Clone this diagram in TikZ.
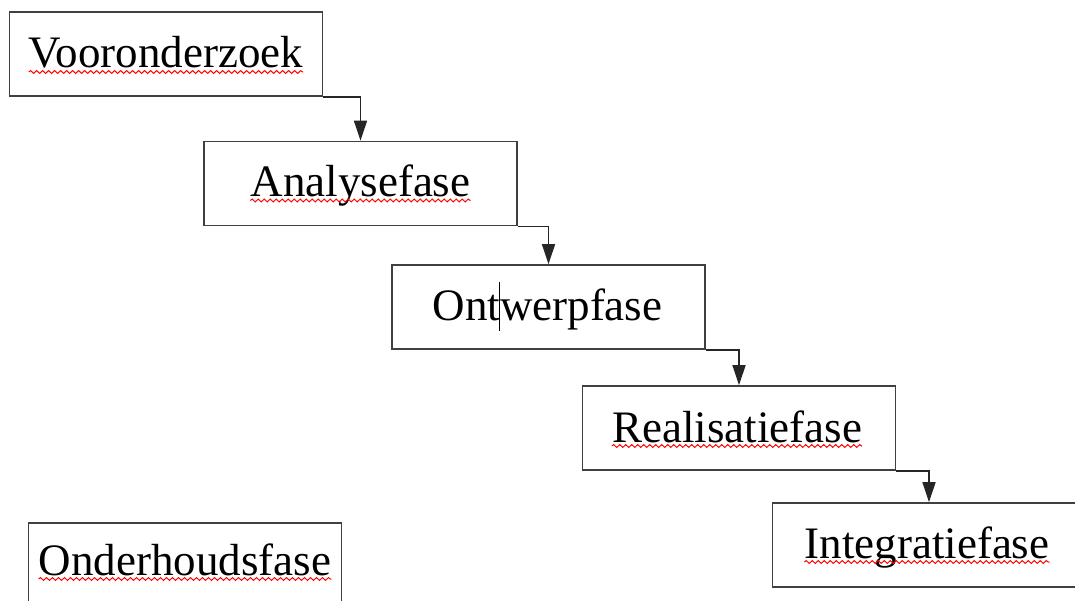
\documentclass[tikz,border=0pt]{standalone}
\usepackage{fontspec}
\setmainfont{Liberation Serif}
\usetikzlibrary{arrows.meta,calc,decorations.pathmorphing}
\tikzset{
  box/.style={draw=black!75, line width=1.7pt, minimum width=313pt, minimum height=84pt, inner sep=0pt, fill=white},
  lbl/.style={anchor=base, inner sep=0pt, font=\fontsize{45}{54}\selectfont},
  conn/.style={draw=black!85, line width=1.6pt, -{Triangle[length=20pt,width=13pt]}},
  wavy/.style={draw=red, line width=1pt, decorate, decoration={snake, segment length=6pt, amplitude=1.4pt}},
  caret/.style={draw=black, line width=1pt}
}
\begin{document}
\begin{tikzpicture}[x=1pt,y=-1pt]
\useasboundingbox (0,0) rectangle (1075,601);
\clip (0,0) rectangle (1075,601);
\fill[white] (0,0) rectangle (1075,601);

\node[box] (v) at (166,54) {};
\node[box] (a) at (360.5,183.5) {};
\node[box] (o) at (548.5,307) {};
\node[box] (r) at (739,428) {};
\node[box] (i) at (929,545) {};
\node[box] (h) at (185,565) {};

\node[lbl] (vt) at ($(v.center)+(0,14)$) {Vooronderzoek};
\node[lbl] (at) at ($(a.center)+(0,13)$) {Analysefase};
\node[lbl] (ot) at ($(o.center)+(-1,13)$) {Ontwerpfase};
\node[lbl] (rt) at ($(r.center)+(-2,14)$) {Realisatiefase};
\node[lbl] (it) at ($(i.center)+(-2,13)$) {Integratiefase};
\node[lbl] (ht) at ($(h.center)+(0,10)$) {Onderhoudsfase};

\draw[wavy] ([yshift=-4pt]vt.base west) -- ([yshift=-4pt]vt.base east);
\draw[wavy] ([yshift=-4pt]at.base west) -- ([yshift=-4pt]at.base east);
\draw[wavy] ([yshift=-4pt]rt.base west) -- ([yshift=-4pt]rt.base east);
\draw[wavy] ([yshift=-4pt]it.base west) -- ([yshift=-4pt]it.base east);
\draw[wavy] ([yshift=-4pt]ht.base west) -- ([yshift=-4pt]ht.base east);

\coordinate (c1) at ($(ot.base west)+(67.5,-38)$);
\coordinate (c2) at ($(ot.base west)+(67.5,11)$);
\draw[caret] (c1) -- (c2);

\draw[conn] (v.south east) -| (a.north);
\draw[conn] (a.south east) -| (o.north);
\draw[conn] (o.south east) -| (r.north);
\draw[conn] (r.south east) -| (i.north);
\end{tikzpicture}
\end{document}
